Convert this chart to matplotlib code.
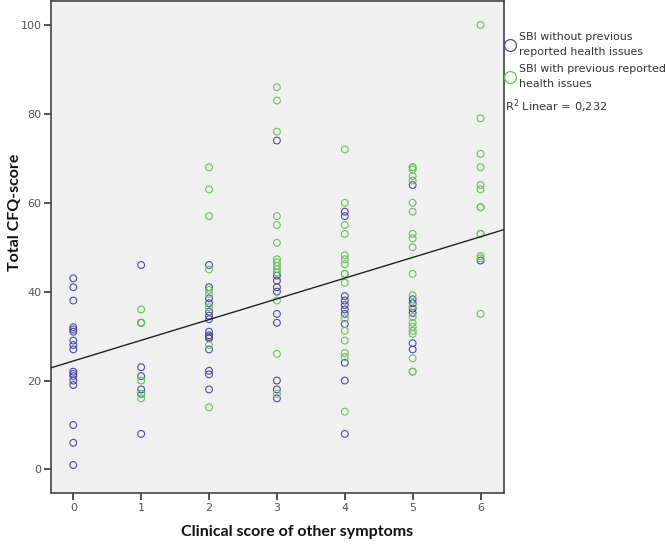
import matplotlib
matplotlib.use("Agg")
import matplotlib.pyplot as plt
from matplotlib.lines import Line2D
import numpy as np

# ---- data ----
blue_x = [0]*17 + [1]*7 + [2]*15 + [3]*10 + [4]*11 + [5]*7 + [6]*1
blue_y = [43, 41, 38, 32, 31.5, 31, 29, 28, 27, 22, 21.5, 21, 20, 19, 10, 6, 1,
          46, 33, 23, 21, 18, 17, 8,
          46, 41, 38.5, 37.4, 35.5, 34.6, 33.8, 31, 30.2, 29.8, 27, 22.2, 21.4, 18, 29.5,
          74, 43.6, 42.5, 41, 40, 35, 33, 20, 18, 16,
          58, 57, 39, 38, 37, 36, 35, 32.7, 24, 20, 8,
          64, 38.3, 37.4, 36.2, 35.2, 28.4, 27,
          47]

green_x = [1]*5 + [2]*9 + [3]*14 + [4]*16 + [5]*21 + [6]*13
green_y = [36, 33, 20, 17, 16,
           68, 63, 57, 45, 40.4, 39.5, 36.5, 28, 14,
           86, 83, 76, 57, 55, 51, 47.3, 46.6, 45.8, 45.1, 44.3, 38, 26, 17,
           72, 60, 55, 53, 48.2, 47.3, 46.2, 44, 42, 34, 31.2, 29, 26.2, 25.3, 13, 44,
           68, 67.5, 66, 65, 60, 58, 53, 52, 50, 44, 39.2, 34.3, 32.1, 31.2, 30.5, 25, 22, 22, 33, 36.8, 68,
           100, 79, 71, 68, 64, 63, 59, 59, 53, 53, 48, 35, 47.5]

fit_intercept = 24.4
fit_slope = 4.66
r2_text = "0,232"

legend_labels = ["SBI without previous\nreported health issues",
                 "SBI with previous reported\nhealth issues"]
x_ticks = [0, 1, 2, 3, 4, 5, 6]
y_ticks = [0, 20, 40, 60, 80, 100]

BLUE = "#4a4aa6"
GREEN = "#66c255"

fig = plt.figure(figsize=(6.66, 5.5), dpi=100)
ax = fig.add_axes([51.3/666, 1-493/550, (504.3-51.3)/666, (493-1)/550])
ax.set_facecolor("#f0f0f0")

ax.scatter(blue_x, blue_y, s=24, facecolors="none", edgecolors=BLUE, linewidths=0.8, zorder=3)
ax.scatter(green_x, green_y, s=24, facecolors="none", edgecolors=GREEN, linewidths=0.8, zorder=3)

xl = np.array([-0.324, 6.35])
ax.plot(xl, fit_intercept + fit_slope*xl, color="#222222", lw=1.0, zorder=4)

ax.set_xlim(-0.324, 6.35)
ax.set_ylim(-5.3, 105.4)
ax.set_xticks(x_ticks)
ax.set_yticks(y_ticks)
ax.tick_params(direction="out", length=5, width=1.2, color="#333333",
               labelsize=8, labelcolor="#555555", pad=2)
for s in ax.spines.values():
    s.set_color("#444444")
    s.set_linewidth(1.2)

fig.text(15/666, 1-212/550, "Total CFQ-score", rotation=90, ha="center", va="center",
         fontsize=11.5, fontweight="bold", family="Lato", color="#111111")
fig.text(297/666, 1-532/550, "Clinical score of other symptoms", ha="center", va="center",
         fontsize=11.5, fontweight="bold", family="Lato", color="#111111")

handles = [Line2D([], [], marker="o", ls="none", markersize=8.5, markerfacecolor="none",
                  markeredgecolor=BLUE, markeredgewidth=0.9),
           Line2D([], [], marker="o", ls="none", markersize=8.5, markerfacecolor="none",
                  markeredgecolor=GREEN, markeredgewidth=0.9)]
leg = fig.legend(handles, legend_labels, loc="upper left", bbox_to_anchor=(505/666, 1-32/550),
                 frameon=False, fontsize=7.9, handlelength=0.95, handletextpad=0.3,
                 borderpad=0, labelspacing=0.7, borderaxespad=0, labelcolor="#333333")
for t in leg.get_texts():
    t.set_linespacing(1.6)
fig.text(505/666, 1-106/550, "R$^2$ Linear = " + r2_text, ha="left", va="center",
         fontsize=8.2, color="#333333")

fig.savefig("out.png", dpi=100)
